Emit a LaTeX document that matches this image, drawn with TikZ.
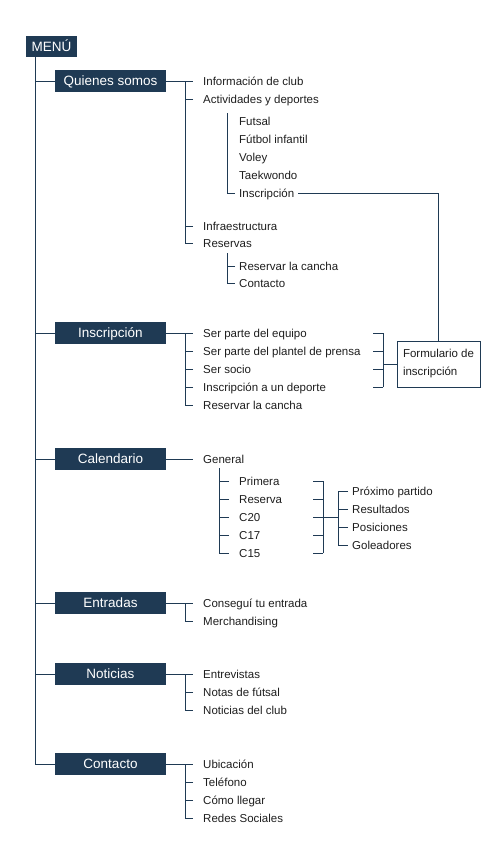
\documentclass[tikz,border=0pt]{standalone}
\usepackage{fontspec}
\setmainfont{Liberation Sans}
\usepackage{tikz}
\usetikzlibrary{positioning, calc}
\definecolor{navy}{RGB}{31,58,84}
\definecolor{txtgray}{RGB}{30,30,30}
\tikzset{
  menubox/.style={rectangle, fill=navy, text=white, minimum width=51pt,
    minimum height=21pt, inner sep=0pt, text height=9.7pt, text depth=0pt,
    font=\fontsize{13.5}{16}\selectfont},
  secbox/.style={rectangle, fill=navy, text=white, minimum width=111pt,
    minimum height=22pt, inner sep=0pt, text height=9.7pt, text depth=0pt,
    font=\fontsize{13.5}{16}\selectfont},
  item/.style={anchor=west, inner xsep=10pt, inner ysep=0pt, text height=8.2pt,
    text depth=0pt, text=txtgray, font=\fontsize{11.5}{14}\selectfont},
  subitem/.style={item, inner xsep=4pt},
  formbox/.style={rectangle, draw=navy, fill=white, line width=1pt, align=left,
    minimum width=83pt, minimum height=46pt, inner sep=0pt, text=txtgray,
    font=\fontsize{11.5}{18}\selectfont},
  line/.style={line width=1pt, color=navy}
}
\begin{document}
\begin{tikzpicture}[x=1pt, y=-1pt]
  \useasboundingbox (0,0) rectangle (500,855);
  \node (menu) [menubox] at (51.5,46.5) {MENÚ};
  \node (quienes) [secbox] at (110.5,81) {Quienes somos};
  \node (inscripcion) [secbox] at (110.5,333) {Inscripción};
  \node (calendario) [secbox] at (110.5,459) {Calendario};
  \node (entradas) [secbox] at (110.5,603) {Entradas};
  \node (noticias) [secbox] at (110.5,674) {Noticias};
  \node (contacto) [secbox] at (110.5,764) {Contacto};

  \coordinate (trunk) at (35,57);
  \draw [line] (trunk) |- (contacto.west);
  \foreach \s in {quienes, inscripcion, calendario, entradas, noticias}
    \draw [line] (\s.west) -- (\s.west -| trunk);

  \node (info) [item] at (193,81) {Información de club};
  \node (activ) [item] at (193,99) {Actividades y deportes};
  \node (futsal) [subitem] at (235,121) {Futsal};
  \node (futbol) [subitem] at (235,139) {Fútbol infantil};
  \node (voley) [subitem] at (235,157) {Voley};
  \node (taekwondo) [subitem] at (235,175) {Taekwondo};
  \node (inscact) [subitem] at (235,193) {Inscripción};
  \node (infra) [item] at (193,226) {Infraestructura};
  \node (reservas) [item] at (193,243) {Reservas};
  \node (rescancha) [subitem] at (235,266) {Reservar la cancha};
  \node (rescontacto) [subitem] at (235,283) {Contacto};

  \draw [line] (quienes.east) -- (info.west);
  \draw [line] ([xshift=-8pt]info.west) |- (reservas.west);
  \foreach \n in {activ, infra} \draw [line] (\n.west) -- ++(-8,0);
  \draw [line] ([xshift=-8pt,yshift=8pt]futsal.west) |- (inscact.west);
  \draw [line] ([xshift=-8pt,yshift=13pt]rescancha.west) |- (rescontacto.west);
  \draw [line] (rescancha.west) -- ++(-8,0);

  \node (equipo) [item] at (193,333) {Ser parte del equipo};
  \node (prensa) [item] at (193,351) {Ser parte del plantel de prensa};
  \node (socio) [item] at (193,369) {Ser socio};
  \node (deporte) [item] at (193,387) {Inscripción a un deporte};
  \node (cancha) [item] at (193,405) {Reservar la cancha};
  \node (form) [formbox] at (438.5,364) {Formulario de\\inscripción};

  \draw [line] (inscripcion.east) -- (equipo.west);
  \draw [line] ([xshift=-8pt]equipo.west) |- (cancha.west);
  \foreach \n in {prensa, socio, deporte} \draw [line] (\n.west) -- ++(-8,0);
  \coordinate (fb) at (383,0);
  \foreach \n in {equipo, prensa, socio, deporte} \draw [line] (\n -| fb) -- ++(-10,0);
  \draw [line] (equipo -| fb) -- (deporte -| fb);
  \draw [line] (form.west -| fb) -- (form.west);
  \draw [line] (inscact.east) -| (form.north);

  \node (general) [item] at (193,459) {General};
  \node (primera) [item] at (229,481) {Primera};
  \node (reserva) [item] at (229,499) {Reserva};
  \node (c20) [item] at (229,517) {C20};
  \node (c17) [item] at (229,535) {C17};
  \node (c15) [item] at (229,553) {C15};
  \node (proximo) [subitem] at (348,491) {Próximo partido};
  \node (resultados) [subitem] at (348,509) {Resultados};
  \node (posiciones) [subitem] at (348,527) {Posiciones};
  \node (goleadores) [subitem] at (348,545) {Goleadores};

  \draw [line] (calendario.east) -- (general.west);
  \draw [line] (primera.west) ++(-10,-13) |- (c15.west);
  \foreach \n in {primera, reserva, c20, c17} \draw [line] (\n.west) -- ++(-10,0);
  \coordinate (cb) at (323,0);
  \coordinate (cc) at (338,0);
  \foreach \n in {primera, reserva, c20, c17, c15} \draw [line] (\n -| cb) -- ++(-10,0);
  \draw [line] (primera -| cb) -- (c15 -| cb);
  \draw [line] (c20 -| cb) -- (c20 -| cc);
  \draw [line] (proximo -| cc) |- (goleadores.west);
  \foreach \n in {proximo, resultados, posiciones} \draw [line] (\n.west) -- (\n -| cc);

  \node (consegui) [item] at (193,603) {Conseguí tu entrada};
  \node (merch) [item] at (193,621) {Merchandising};
  \draw [line] (entradas.east) -- (consegui.west);
  \draw [line] ([xshift=-8pt]consegui.west) |- (merch.west);

  \node (entrevistas) [item] at (193,674) {Entrevistas};
  \node (notas) [item] at (193,692) {Notas de fútsal};
  \node (notclub) [item] at (193,710) {Noticias del club};
  \draw [line] (noticias.east) -- (entrevistas.west);
  \draw [line] ([xshift=-8pt]entrevistas.west) |- (notclub.west);
  \draw [line] (notas.west) -- ++(-8,0);

  \node (ubicacion) [item] at (193,764) {Ubicación};
  \node (telefono) [item] at (193,782) {Teléfono};
  \node (llegar) [item] at (193,800) {Cómo llegar};
  \node (redes) [item] at (193,818) {Redes Sociales};
  \draw [line] (contacto.east) -- (ubicacion.west);
  \draw [line] ([xshift=-8pt]ubicacion.west) |- (redes.west);
  \foreach \n in {telefono, llegar} \draw [line] (\n.west) -- ++(-8,0);
\end{tikzpicture}
\end{document}
